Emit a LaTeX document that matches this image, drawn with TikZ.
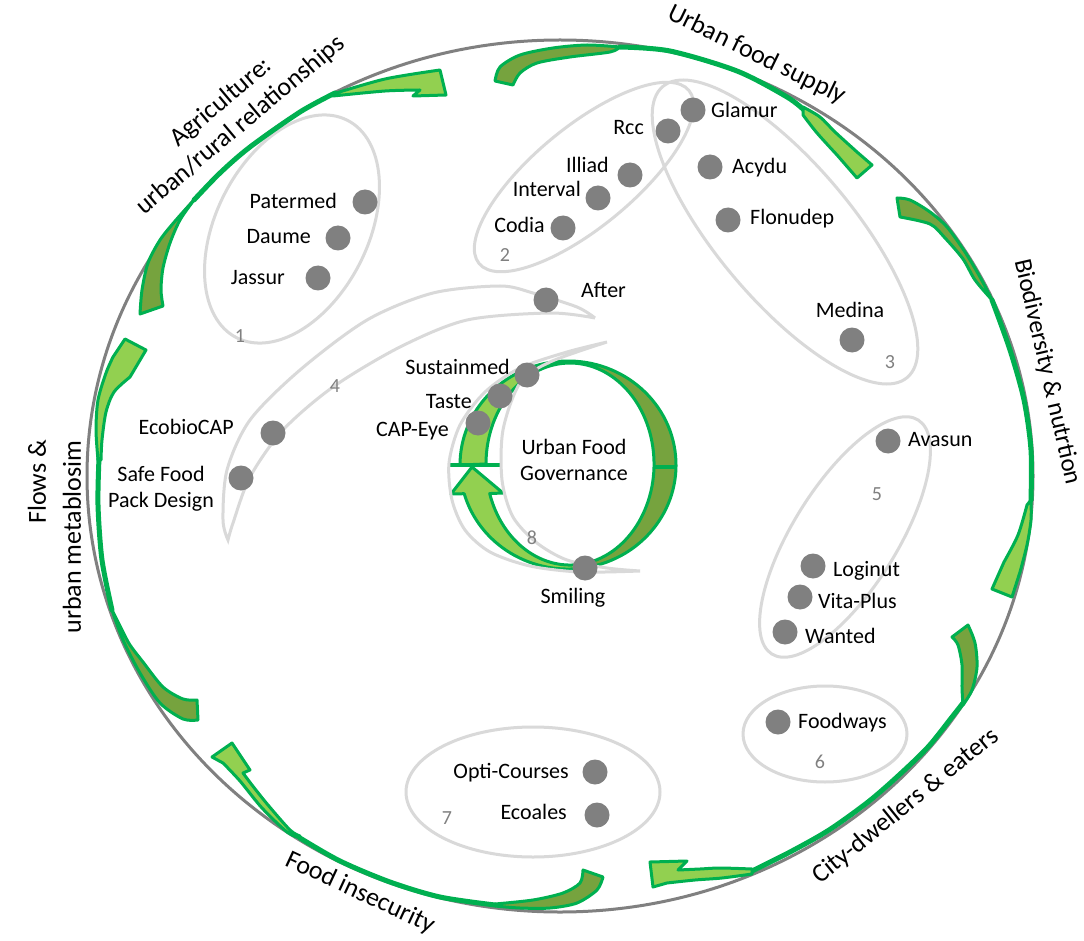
\documentclass[tikz,border=0pt]{standalone}
\usepackage{fontspec}
\setmainfont{Carlito}
\definecolor{agreen}{RGB}{0,176,80}
\definecolor{adark}{RGB}{118,163,62}
\definecolor{alight}{RGB}{146,208,80}
\definecolor{dotgray}{RGB}{128,128,128}
\definecolor{grpgray}{RGB}{217,217,217}
\definecolor{ringgray}{RGB}{128,128,128}
\begin{document}
\begin{tikzpicture}[x=1pt,y=1pt,
  grp/.style={draw=grpgray, line width=3pt},
  arrdark/.style={fill=adark, draw=agreen, line width=3pt, line join=round},
  arrlight/.style={fill=alight, draw=agreen, line width=3pt, line join=round},
  arrline/.style={draw=agreen, line width=5pt, line cap=round},
  dot/.style={circle, fill=dotgray, minimum size=25pt, inner sep=0pt},
  lbl/.style={font=\fontsize{22}{26}\selectfont, inner sep=0pt, text height=15pt, text depth=3pt},
  num/.style={font=\fontsize{20}{24}\selectfont, text=dotgray, inner sep=0pt},
  big/.style={font=\fontsize{26}{30}\selectfont, inner sep=0pt, align=center}]
\fill[white] (0,0) rectangle (1084,-941);
\useasboundingbox (0,0) rectangle (1084,-941);

% outer ring
\draw[draw=ringgray, line width=3pt] (560,-476) ellipse[x radius=473, y radius=436];

% group outlines
\draw[grp, rotate around={63:(292,-229)}] (292,-229) ellipse[x radius=122, y radius=76];
\draw[grp, rotate around={39.5:(584,-177)}] (584,-177) ellipse[x radius=136, y radius=50];
\draw[grp, rotate around={-50:(785,-232)}] (785,-232) ellipse[x radius=190, y radius=68];
\draw[grp, rotate around={58:(845,-537)}] (845,-537) ellipse[x radius=138, y radius=52];
\draw[grp] (825,-734) ellipse[x radius=82, y radius=48];
\draw[grp] (533,-792) ellipse[x radius=127, y radius=65];
\draw[grp] plot[smooth] coordinates {(595,-318) (577,-307) (533,-293) (500,-286) (433,-293) (367,-320) (300,-370) (250,-420) (227,-470) (223,-520) (228,-540)}
  -- plot[smooth] coordinates {(228,-540) (233,-523) (250,-477) (283,-430) (333,-387) (400,-347) (467,-320) (550,-313) (595,-318)};

% arrow 1 (agriculture)
\draw[arrline] plot[smooth] coordinates {(194,-200) (220,-173) (250,-147) (300,-112) (335,-93)};
\filldraw[arrdark] plot[smooth] coordinates {(140,-314) (142,-290) (148,-263) (160,-240) (176,-220) (194,-200)}
  -- plot[smooth] coordinates {(194,-200) (180,-220) (170,-243) (163,-268) (161,-290) (163,-306)} -- cycle;
\filldraw[arrlight] plot[smooth] coordinates {(333,-94) (385,-79) (440,-70)} -- (446,-95) -- (413,-96) -- (420,-90)
  -- plot[smooth] coordinates {(420,-90) (385,-91) (333,-96)} -- cycle;

% arrow 2 (urban food supply)
\draw[arrline] plot[smooth] coordinates {(620,-47) (670,-51) (737,-71) (787,-97) (805,-111)};
\filldraw[arrdark] plot[smooth] coordinates {(495,-81) (500,-67) (520,-55) (553,-48) (587,-45) (620,-47)}
  -- plot[smooth] coordinates {(620,-47) (610,-52) (570,-57) (537,-63) (520,-73) (513,-85)} -- cycle;
\filldraw[arrlight] plot[smooth] coordinates {(803,-107) (820,-117) (835,-132) (857,-152)} -- (872,-165) -- (857,-178) -- (837,-155)
  -- plot[smooth] coordinates {(837,-155) (817,-133) (803,-115)} -- cycle;

% arrow 3 (biodiversity)
\draw[arrline] plot[smooth] coordinates {(992,-300) (1010,-350) (1024,-400) (1031,-450) (1031,-500)};
\filldraw[arrdark] plot[smooth] coordinates {(897,-198) (910,-200) (930,-212) (947,-227) (965,-252) (980,-277) (992,-300)}
  -- plot[smooth] coordinates {(992,-300) (975,-280) (963,-259) (945,-238) (930,-224) (900,-217)} -- cycle;
\filldraw[arrlight] plot[smooth] coordinates {(1031,-500) (1031,-520) (1027,-545) (1020,-572)} -- (1012,-597) -- (992,-589) -- (1004,-562)
  -- plot[smooth] coordinates {(1004,-562) (1018,-535) (1027,-505)} -- cycle;

% arrow 4 (city-dwellers)
\draw[arrline] plot[smooth] coordinates {(963,-703) (952,-717) (928,-747) (898,-776) (868,-802) (829,-830) (790,-852) (752,-871)};
\filldraw[arrdark] plot[smooth] coordinates {(968,-625) (975,-643) (977,-667) (972,-690) (963,-705)}
  -- plot[smooth] coordinates {(963,-705) (962,-688) (962,-665) (958,-645) (952,-637)} -- cycle;
\filldraw[arrlight] plot[smooth] coordinates {(752,-869) (720,-868) (700,-869) (678,-870)} -- (687,-861) -- (650,-862) -- (653,-887) -- (667,-883)
  -- plot[smooth] coordinates {(667,-883) (695,-880) (722,-878) (752,-874)} -- cycle;

% arrow 5 (food insecurity)
\draw[arrline] plot[smooth] coordinates {(495,-905) (440,-897) (390,-882) (340,-861) (300,-838)};
\filldraw[arrdark] plot[smooth] coordinates {(603,-877) (597,-890) (577,-903) (550,-908) (520,-908) (495,-906)}
  -- plot[smooth] coordinates {(495,-904) (533,-900) (563,-893) (580,-883) (583,-870)} -- cycle;
\filldraw[arrlight] plot[smooth] coordinates {(300,-838) (287,-832) (262,-808) (240,-781) (223,-763)} -- (212,-757) -- (232,-743) -- (250,-770) -- (243,-773)
  -- plot[smooth] coordinates {(243,-773) (252,-785) (268,-805) (290,-830) (300,-836)} -- cycle;

% arrow 6 (flows)
\draw[arrline] plot[smooth] coordinates {(112,-610) (102,-560) (98,-505) (99,-458)};
\filldraw[arrdark] plot[smooth] coordinates {(198,-720) (183,-719) (160,-703) (140,-673) (123,-640) (112,-610)}
  -- plot[smooth] coordinates {(112,-610) (122,-630) (130,-645) (143,-662) (163,-687) (183,-699) (197,-700)} -- cycle;
\filldraw[arrlight] plot[smooth] coordinates {(98,-460) (96,-430) (98,-400) (106,-373) (113,-357)} -- (125,-339) -- (146,-350) -- (130,-377)
  -- plot[smooth] coordinates {(130,-377) (114,-392) (106,-412) (102,-440) (101,-460)} -- cycle;

% central ring
\filldraw[arrdark] (558.6,-361.4) arc[start angle=95, end angle=-80, x radius=108, y radius=104]
  -- (584.6,-563.5) arc[start angle=-80, end angle=95, x radius=84, y radius=101] -- cycle;
\filldraw[arrlight] (558.6,-361.4) arc[start angle=95, end angle=180, x radius=108, y radius=104]
  -- (486,-464) arc[start angle=180, end angle=95, x radius=84, y radius=101] -- cycle;
\filldraw[arrlight] (464.2,-493.7) arc[start angle=196, end angle=280, x radius=108, y radius=104]
  -- (584.6,-563.5) arc[start angle=280, end angle=197, x radius=84, y radius=101] -- (503,-493) -- (472,-467) -- (451,-494) -- cycle;
\draw[agreen, line width=4pt] (448,-465) -- (500,-465);
\draw[agreen, line width=4pt] (653,-467) -- (677,-467);

% group 8 outline
\draw[grp] plot[smooth] coordinates {(607,-342) (567,-352) (520,-368) (485,-392) (460,-425) (449,-463) (452,-500) (465,-530) (490,-552) (530,-566) (580,-572) (640,-571)}
  -- plot[smooth] coordinates {(640,-571) (607,-568) (567,-560) (537,-543) (513,-517) (502,-480) (503,-430) (520,-383) (550,-362) (607,-342)};

% dots
\node[dot] (dPatermed) at (365,-202) {};
\node[dot] (dDaume) at (338,-238) {};
\node[dot] (dJassur) at (318,-278) {};
\node[dot] (dGlamur) at (693,-110) {};
\node[dot] (dRcc) at (668,-131) {};
\node[dot] (dIlliad) at (630,-175) {};
\node[dot] (dAcydu) at (710,-167) {};
\node[dot] (dInterval) at (598,-198) {};
\node[dot] (dCodia) at (563,-228) {};
\node[dot] (dFlonudep) at (728,-220) {};
\node[dot] (dAfter) at (546,-300) {};
\node[dot] (dMedina) at (852,-340) {};
\node[dot] (dSustainmed) at (527,-375) {};
\node[dot] (dTaste) at (500,-396) {};
\node[dot] (dCAPEye) at (478,-423) {};
\node[dot] (dSmiling) at (585,-568) {};
\node[dot] (dEcobio) at (273,-433) {};
\node[dot] (dSafe) at (241,-478) {};
\node[dot] (dAvasun) at (888,-441) {};
\node[dot] (dLoginut) at (813,-566) {};
\node[dot] (dVita) at (800,-597) {};
\node[dot] (dWanted) at (785,-632) {};
\node[dot] (dFoodways) at (778,-722) {};
\node[dot] (dOpti) at (595,-772) {};
\node[dot] (dEcoales) at (597,-815) {};

% labels
\node[lbl, anchor=east] (tPatermed) at (337,-203) {Patermed};
\node[lbl, anchor=east] (tDaume) at (311,-238) {Daume};
\node[lbl, anchor=east] (tJassur) at (285,-278) {Jassur};
\node[lbl, anchor=west] (tGlamur) at (711,-112) {Glamur};
\node[lbl, anchor=east] (tRcc) at (644,-129) {Rcc};
\node[lbl, anchor=east] (tIlliad) at (609,-167) {Illiad};
\node[lbl, anchor=west] (tAcydu) at (732,-168) {Acydu};
\node[lbl, anchor=east] (tInterval) at (581,-191) {Interval};
\node[lbl, anchor=east] (tCodia) at (545,-227) {Codia};
\node[lbl, anchor=west] (tFlonudep) at (750,-219) {Flonudep};
\node[lbl, anchor=west] (tAfter) at (581,-292) {After};
\node[lbl] (tMedina) at (850,-311) {Medina};
\node[lbl, anchor=east] (tSustainmed) at (510,-368) {Sustainmed};
\node[lbl, anchor=east] (tTaste) at (472,-402) {Taste};
\node[lbl, anchor=east] (tCAPEye) at (449,-430) {CAP-Eye};
\node[lbl] (tSmiling) at (573,-597) {Smiling};
\node[lbl, anchor=east] (tEcobio) at (234,-428) {EcobioCAP};
\node[lbl, align=center, text height=, text depth=] (tSafe) at (161,-489) {Safe Food\\Pack Design};
\node[lbl, anchor=west] (tAvasun) at (908,-440) {Avasun};
\node[lbl, anchor=west] (tLoginut) at (833,-570) {Loginut};
\node[lbl, anchor=west] (tVita) at (818,-602) {Vita-Plus};
\node[lbl, anchor=west] (tWanted) at (805,-637) {Wanted};
\node[lbl, anchor=west] (tFoodways) at (798,-722) {Foodways};
\node[lbl, anchor=east] (tOpti) at (569,-772) {Opti-Courses};
\node[lbl, anchor=east] (tEcoales) at (567,-813) {Ecoales};
\node[lbl, align=center, text height=, text depth=] (tUFG) at (574,-460) {Urban Food\\Governance};

% group numbers
\node[num] (n1) at (240,-336) {1};
\node[num] (n2) at (505,-255) {2};
\node[num] (n3) at (890,-362) {3};
\node[num] (n4) at (335,-386) {4};
\node[num] (n5) at (877,-494) {5};
\node[num] (n6) at (820,-762) {6};
\node[num] (n7) at (447,-818) {7};
\node[num] (n8) at (532,-538) {8};

% theme labels
\node[big, rotate=40] (lAgri) at (231,-114) {Agriculture:\\urban/rural relationships};
\node[big, rotate=-26] (lSupply) at (757,-55) {Urban food supply};
\node[big, rotate=-77, font=\fontsize{25}{29}\selectfont] (lBio) at (1047,-372) {Biodiversity \& nutrtion};
\node[big, rotate=39] (lCity) at (906,-806) {City-dwellers \& eaters};
\node[big, rotate=-25] (lInsec) at (360,-893) {Food insecurity};
\node[big, rotate=90] (lFlows1) at (37,-482) {Flows \&};
\node[big, rotate=90] (lFlows2) at (72,-537) {urban metablosim};
\end{tikzpicture}
\end{document}
